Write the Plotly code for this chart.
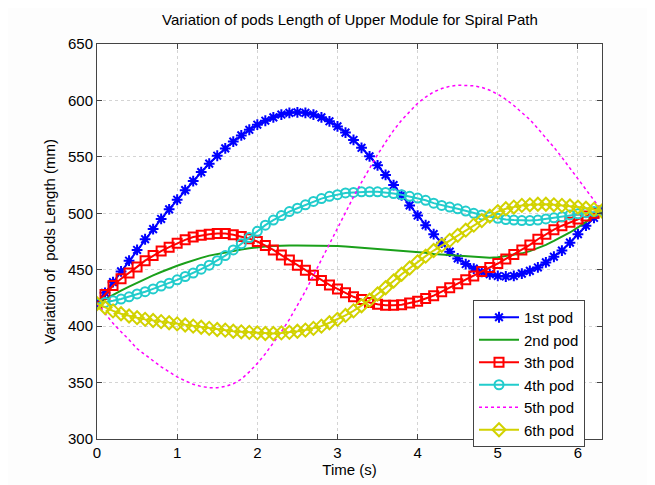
import plotly.graph_objects as go

time_s = [0.0, 0.1, 0.2, 0.3, 0.4, 0.5, 0.6, 0.7, 0.8, 0.9,
          1.0, 1.1, 1.2, 1.3, 1.4, 1.5, 1.6, 1.7, 1.8, 1.9,
          2.0, 2.1, 2.2, 2.3, 2.4, 2.5, 2.6, 2.7, 2.8, 2.9,
          3.0, 3.1, 3.2, 3.3, 3.4, 3.5, 3.6, 3.7, 3.8, 3.9,
          4.0, 4.1, 4.2, 4.3, 4.4, 4.5, 4.6, 4.7, 4.8, 4.9,
          5.0, 5.1, 5.2, 5.3, 5.4, 5.5, 5.6, 5.7, 5.8, 5.9,
          6.0, 6.1, 6.2, 6.3]

pod1 = [420, 429.5, 439, 448.5, 458, 467.5, 477, 486, 495, 503.5,
        512, 520.5, 528.5, 536.5, 544, 551, 557.5, 563.5, 569, 574,
        578.5, 582, 585, 587.5, 589, 589.5, 589, 587.5, 585, 581.5,
        577, 571.5, 565, 558, 550.5, 542.5, 534, 525, 516, 507,
        498, 489.5, 481.5, 474, 466, 460, 455, 451, 448, 446,
        444.5, 444, 444.5, 446.5, 449, 452, 456.5, 461.5, 467, 474,
        481.5, 489, 496, 502]

pod2 = [420, 424, 428, 431.5, 435, 438.5, 442, 445, 448, 451,
        453.5, 456, 458.5, 460.5, 462.5, 464, 465.5, 467, 468, 469,
        470, 470.5, 471, 471.5, 471.5, 471.5, 471.5, 471.5, 471.5, 471,
        471, 470.5, 470, 469.5, 469, 468.5, 468, 467.5, 467, 466,
        465.5, 465, 464, 463.5, 462.5, 462, 461.5, 461, 460.5, 460.5,
        461, 462, 463, 464.5, 466.5, 469, 472, 475.5, 479, 483,
        487.5, 492.5, 497, 502]

pod3 = [420, 428, 436, 442, 447, 452.5, 458, 462.5, 466.5, 470,
        473.5, 476.5, 479, 480.5, 481.5, 482, 482, 481, 479.5, 477.5,
        475, 471.5, 467.5, 463, 458.5, 454, 449.5, 445, 440.5, 436.5,
        433, 429.5, 426, 423.5, 421, 419.5, 418.5, 418.5, 419, 420.5,
        422, 424.5, 427, 430.5, 434, 437.5, 441, 444.5, 448.5, 452,
        455.5, 459.5, 463.5, 467.5, 472, 477, 481.5, 485.5, 489, 492,
        495, 497.5, 500, 502]

pod4 = [420, 421, 422.5, 424, 426, 428.5, 430.5, 433, 435.5, 438,
        441, 444, 447, 450.5, 454, 458, 462.5, 467.5, 473, 478.5,
        484, 489.5, 494, 498, 501.5, 504.5, 507.5, 510.5, 513, 515,
        516.5, 518, 518.5, 519, 519, 519, 518.5, 517.5, 516.5, 515,
        513.5, 511.5, 509, 507, 505.5, 504, 502, 500, 498.5, 497,
        495.5, 494.5, 494, 493.5, 493.5, 494, 495, 496, 497, 498.5,
        499.5, 500.5, 501.5, 502]

pod5 = [420, 411, 402.5, 395, 388, 380, 374.5, 369, 364, 359.5,
        355, 351.5, 348.5, 346.5, 345.5, 345.5, 346.5, 349, 353, 359.5,
        367, 375.5, 385, 395, 406, 418, 431, 445, 459, 473,
        487, 501, 514.5, 527.5, 540, 552, 563, 573.5, 582.5, 590.5,
        597.5, 603, 607.5, 610.5, 612.5, 613.5, 613.5, 613, 611.5, 609,
        605.5, 601, 595.5, 589.5, 583, 575, 567, 558.5, 549.5, 540,
        530, 520, 511, 502]

pod6 = [420, 416.5, 413.5, 411, 409, 407.5, 406, 405, 404, 403,
        402, 401, 400, 399, 398, 397, 396.5, 395.5, 395, 394.5,
        394, 393.5, 393.5, 394, 394.5, 395.5, 396.5, 398, 400, 403,
        406, 409.5, 413.5, 418, 423, 428.5, 434, 440, 446, 451.5,
        457, 462, 467, 471.5, 476, 480.5, 485, 489.5, 493.5, 497.5,
        501.5, 504, 505.5, 507, 507.5, 508, 508, 507.5, 507, 506.5,
        505.5, 504.5, 503.5, 502]

names = ["1st pod", "2nd pod", "3th pod", "4th pod", "5th pod", "6th pod"]

x_ticks = [0, 1, 2, 3, 4, 5, 6]
y_ticks = [300, 350, 400, 450, 500, 550, 600, 650]

FONT = "Liberation Sans, Arial, Helvetica, sans-serif"

fig = go.Figure()

fig.add_trace(go.Scatter(x=time_s, y=pod1, name=names[0], mode="lines+markers",
                         line=dict(color="#0000ff", width=2),
                         marker=dict(symbol="asterisk-open", size=9,
                                     line=dict(color="#0000ff", width=2))))
fig.add_trace(go.Scatter(x=time_s, y=pod2, name=names[1], mode="lines",
                         line=dict(color="#1aa01a", width=2)))
fig.add_trace(go.Scatter(x=time_s, y=pod3, name=names[2], mode="lines+markers",
                         line=dict(color="#ff0000", width=2),
                         marker=dict(symbol="square-open", size=9,
                                     line=dict(color="#ff0000", width=2))))
fig.add_trace(go.Scatter(x=time_s, y=pod4, name=names[3], mode="lines+markers",
                         line=dict(color="#22cccc", width=2),
                         marker=dict(symbol="circle-open", size=9,
                                     line=dict(color="#22cccc", width=2))))
fig.add_trace(go.Scatter(x=time_s, y=pod5, name=names[4], mode="lines",
                         line=dict(color="#ff00ff", width=1.5, dash="dot")))
fig.add_trace(go.Scatter(x=time_s, y=pod6, name=names[5], mode="lines+markers",
                         line=dict(color="#d2d200", width=2),
                         marker=dict(symbol="diamond-open", size=10,
                                     line=dict(color="#d2d200", width=2))))

axis_common = dict(
    showline=True, linecolor="#444444", linewidth=1, mirror="ticks",
    ticks="inside", ticklen=5, tickcolor="#444444",
    showgrid=True, gridcolor="#d4d4d4", griddash="dot", gridwidth=1,
    zeroline=False, automargin=False,
    tickfont=dict(family=FONT, size=15, color="#000000"),
)

fig.update_layout(
    width=655, height=485,
    paper_bgcolor="#fdfdfd", plot_bgcolor="#ffffff",
    margin=dict(l=89, r=61, t=36, b=54),
    title=dict(text="Variation of pods Length of Upper Module for Spiral Path",
               x=342 / 655, xanchor="center", y=1 - 12 / 485, yanchor="middle",
               font=dict(family=FONT, size=15, color="#000000")),
    xaxis=dict(range=[0, 6.3], tickvals=x_ticks,
               title=dict(text="Time (s)", standoff=4,
                          font=dict(family=FONT, size=15, color="#000000")),
               **axis_common),
    yaxis=dict(range=[300, 650], tickvals=y_ticks,
               title=dict(text="Variation of  pods Length (mm)", standoff=8,
                          font=dict(family=FONT, size=15, color="#000000")),
               **axis_common),
    legend=dict(x=(473 - 97) / 505, y=(439 - 300) / 395, xanchor="left", yanchor="top",
                bgcolor="#ffffff", bordercolor="#444444", borderwidth=1,
                font=dict(family=FONT, size=15, color="#000000"),
                tracegroupgap=0, itemwidth=40),
    showlegend=True,
)

fig.write_html("out.html")
